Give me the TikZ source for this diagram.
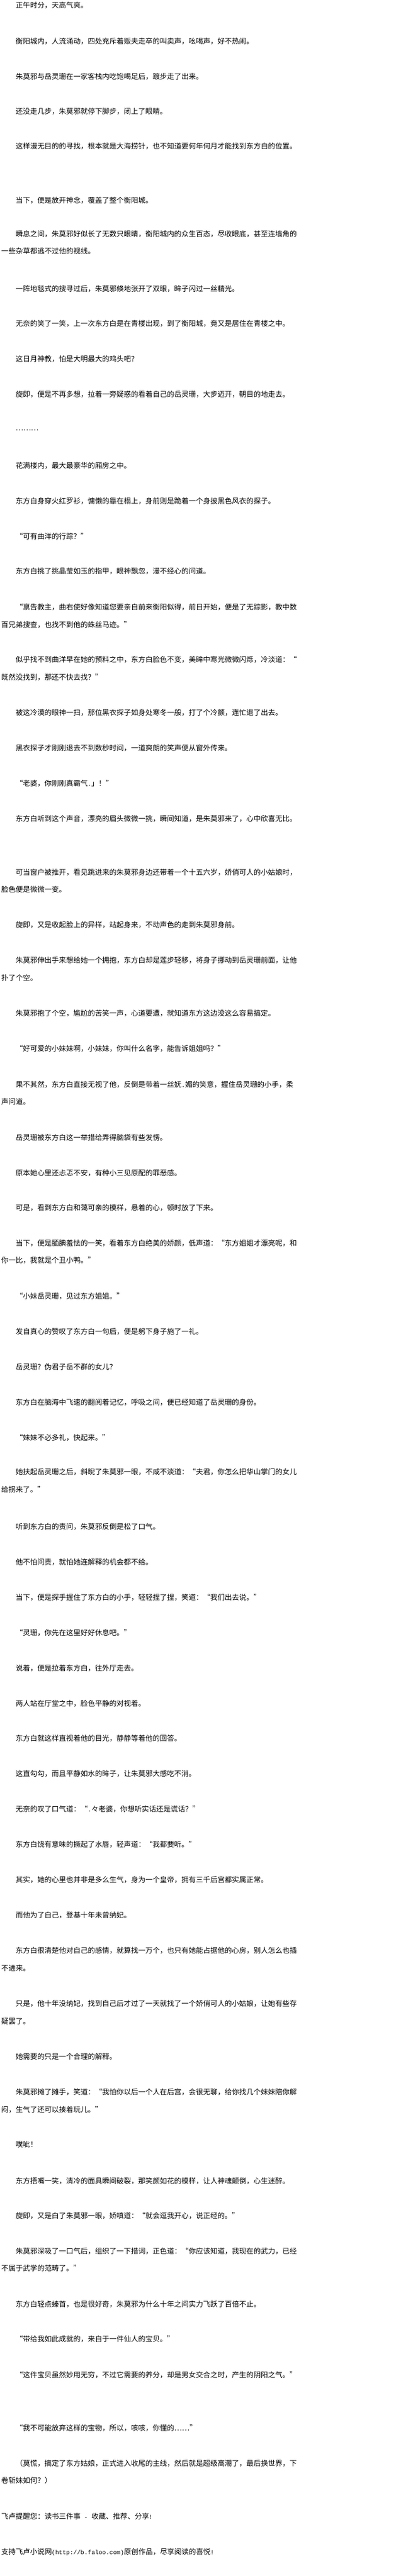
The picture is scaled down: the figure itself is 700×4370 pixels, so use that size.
\documentclass[tikz,border=0pt]{standalone}
\usepackage{fontspec}
\newfontfamily\cjk{Noto Sans CJK SC}
\newfontfamily\cjkq{Noto Sans CJK SC}[RawFeature=+fwid]
\newfontfamily\latmono{Liberation Mono}
\newcommand\qo{{\cjkq “}}
\newcommand\qc{{\cjkq ”}}
\newcommand\elp{{\cjkq …}}
\newcommand\asc[1]{{\latmono\fontsize{10.2pt}{12pt}\selectfont #1}}
\tikzset{para/.style={anchor=base west, inner sep=0pt, text=black, font=\cjk\fontsize{12.22pt}{14pt}\selectfont}}
\begin{document}
\begin{tikzpicture}[x=1pt,y=-1pt]
\fill[white] (0,0) rectangle (700,4370);
\useasboundingbox (0,0) rectangle (700,4370);
\begin{scope}[yshift=-4.6pt]
\node[para] (l1) at (26.4,9) {正午时分，天高气爽。};
\node[para] (l2) at (26.4,70) {衡阳城内，人流涌动，四处充斥着贩夫走卒的叫卖声，吆喝声，好不热闹。};
\node[para] (l3) at (26.4,130) {朱莫邪与岳灵珊在一家客栈内吃饱喝足后，踱步走了出来。};
\node[para] (l4) at (26.4,189) {还没走几步，朱莫邪就停下脚步，闭上了眼睛。};
\node[para] (l5) at (26.4,248) {这样漫无目的的寻找，根本就是大海捞针，也不知道要何年何月才能找到东方白的位置。};
\node[para] (l6) at (26.4,340) {当下，便是放开神念，覆盖了整个衡阳城。};
\node[para] (l7) at (26.4,397) {瞬息之间，朱莫邪好似长了无数只眼睛，衡阳城内的众生百态，尽收眼底，甚至连墙角的};
\node[para] (l8) at (2,426) {一些杂草都逃不过他的视线。};
\node[para] (l9) at (26.4,490) {一阵地毯式的搜寻过后，朱莫邪倏地张开了双眼，眸子闪过一丝精光。};
\node[para] (l10) at (26.4,549) {无奈的笑了一笑，上一次东方白是在青楼出现，到了衡阳城，竟又是居住在青楼之中。};
\node[para] (l11) at (26.4,609) {这日月神教，怕是大明最大的鸡头吧？};
\node[para] (l12) at (26.4,669) {旋即，便是不再多想，拉着一旁疑惑的看着自己的岳灵珊，大步迈开，朝目的地走去。};
\node[para] (l13) at (26.4,726) {\elp\elp\elp};
\node[para] (l14) at (26.4,790) {花满楼内，最大最豪华的厢房之中。};
\node[para] (l15) at (26.4,850) {东方白身穿火红罗衫，慵懒的靠在榻上，身前则是跪着一个身披黑色风衣的探子。};
\node[para] (l16) at (26.4,910) {\qo 可有曲洋的行踪？\qc};
\node[para] (l17) at (26.4,969) {东方白挑了挑晶莹如玉的指甲，眼神飘忽，漫不经心的问道。};
\node[para] (l18) at (26.4,1030) {\qo 禀告教主，曲右使好像知道您要亲自前来衡阳似得，前日开始，便是了无踪影，教中数};
\node[para] (l19) at (2,1060) {百兄弟搜查，也找不到他的蛛丝马迹。\qc};
\node[para] (l20) at (26.4,1119) {似乎找不到曲洋早在她的预料之中，东方白脸色不变，美眸中寒光微微闪烁，冷淡道：\qo};
\node[para] (l21) at (2,1149) {既然没找到，那还不快去找？\qc};
\node[para] (l22) at (26.4,1209) {被这冷漠的眼神一扫，那位黑衣探子如身处寒冬一般，打了个冷颤，连忙退了出去。};
\node[para] (l23) at (26.4,1269) {黑衣探子才刚刚退去不到数秒时间，一道爽朗的笑声便从窗外传来。};
\node[para] (l24) at (26.4,1329) {\qo 老婆，你刚刚真霸气\asc{.}」！\qc};
\node[para] (l25) at (26.4,1389) {东方白听到这个声音，漂亮的眉头微微一挑，瞬间知道，是朱莫邪来了，心中欣喜无比。};
\node[para] (l26) at (26.4,1480) {可当窗户被推开，看见跳进来的朱莫邪身边还带着一个十五六岁，娇俏可人的小姑娘时，};
\node[para] (l27) at (2,1509) {脸色便是微微一变。};
\node[para] (l28) at (26.4,1569) {旋即，又是收起脸上的异样，站起身来，不动声色的走到朱莫邪身前。};
\node[para] (l29) at (26.4,1629) {朱莫邪伸出手来想给她一个拥抱，东方白却是莲步轻移，将身子挪动到岳灵珊前面，让他};
\node[para] (l30) at (2,1659) {扑了个空。};
\node[para] (l31) at (26.4,1719) {朱莫邪抱了个空，尴尬的苦笑一声，心道要遭，就知道东方这边没这么容易搞定。};
\node[para] (l32) at (26.4,1779) {\qo 好可爱的小妹妹啊，小妹妹，你叫什么名字，能告诉姐姐吗？\qc};
\node[para] (l33) at (26.4,1840) {果不其然，东方白直接无视了他，反倒是带着一丝妩\asc{.}媚的笑意，握住岳灵珊的小手，柔};
\node[para] (l34) at (2,1869) {声问道。};
\node[para] (l35) at (26.4,1930) {岳灵珊被东方白这一举措给弄得脑袋有些发愣。};
\node[para] (l36) at (26.4,1990) {原本她心里还忐忑不安，有种小三见原配的罪恶感。};
\node[para] (l37) at (26.4,2049) {可是，看到东方白和蔼可亲的模样，悬着的心，顿时放了下来。};
\node[para] (l38) at (26.4,2109) {当下，便是腼腆羞怯的一笑，看着东方白绝美的娇颜，低声道：\qo 东方姐姐才漂亮呢，和};
\node[para] (l39) at (2,2138) {你一比，我就是个丑小鸭。\qc};
\node[para] (l40) at (26.4,2199) {\qo 小妹岳灵珊，见过东方姐姐。\qc};
\node[para] (l41) at (26.4,2259) {发自真心的赞叹了东方白一句后，便是躬下身子施了一礼。};
\node[para] (l42) at (26.4,2319) {岳灵珊？伪君子岳不群的女儿？};
\node[para] (l43) at (26.4,2379) {东方白在脑海中飞速的翻阅着记忆，呼吸之间，便已经知道了岳灵珊的身份。};
\node[para] (l44) at (26.4,2439) {\qo 妹妹不必多礼，快起来。\qc};
\node[para] (l45) at (26.4,2497) {她扶起岳灵珊之后，斜睨了朱莫邪一眼，不咸不淡道：\qo 夫君，你怎么把华山掌门的女儿};
\node[para] (l46) at (2,2527) {给拐来了。\qc};
\node[para] (l47) at (26.4,2590) {听到东方白的责问，朱莫邪反倒是松了口气。};
\node[para] (l48) at (26.4,2650) {他不怕问责，就怕她连解释的机会都不给。};
\node[para] (l49) at (26.4,2710) {当下，便是探手握住了东方白的小手，轻轻捏了捏，笑道：\qo 我们出去说。\qc};
\node[para] (l50) at (26.4,2770) {\qo 灵珊，你先在这里好好休息吧。\qc};
\node[para] (l51) at (26.4,2830) {说着，便是拉着东方白，往外厅走去。};
\node[para] (l52) at (26.4,2890) {两人站在厅堂之中，脸色平静的对视着。};
\node[para] (l53) at (26.4,2949) {东方白就这样直视着他的目光，静静等着他的回答。};
\node[para] (l54) at (26.4,3009) {这直勾勾，而且平静如水的眸子，让朱莫邪大感吃不消。};
\node[para] (l55) at (26.4,3069) {无奈的叹了口气道：\qo\asc{.}々老婆，你想听实话还是谎话？\qc};
\node[para] (l56) at (26.4,3129) {东方白饶有意味的撅起了水唇，轻声道：\qo 我都要听。\qc};
\node[para] (l57) at (26.4,3189) {其实，她的心里也并非是多么生气，身为一个皇帝，拥有三千后宫都实属正常。};
\node[para] (l58) at (26.4,3249) {而他为了自己，登基十年未曾纳妃。};
\node[para] (l59) at (26.4,3309) {东方白很清楚他对自己的感情，就算找一万个，也只有她能占据他的心房，别人怎么也插};
\node[para] (l60) at (2,3339) {不进来。};
\node[para] (l61) at (26.4,3399) {只是，他十年没纳妃，找到自己后才过了一天就找了一个娇俏可人的小姑娘，让她有些存};
\node[para] (l62) at (2,3429) {疑罢了。};
\node[para] (l63) at (26.4,3489) {她需要的只是一个合理的解释。};
\node[para] (l64) at (26.4,3549) {朱莫邪摊了摊手，笑道：\qo 我怕你以后一个人在后宫，会很无聊，给你找几个妹妹陪你解};
\node[para] (l65) at (2,3579) {闷，生气了还可以揍着玩儿。\qc};
\node[para] (l66) at (26.4,3638) {噗呲！};
\node[para] (l67) at (26.4,3700) {东方捂嘴一笑，清冷的面具瞬间破裂，那笑颜如花的模样，让人神魂颠倒，心生迷醉。};
\node[para] (l68) at (26.4,3759) {旋即，又是白了朱莫邪一眼，娇嗔道：\qo 就会逗我开心，说正经的。\qc};
\node[para] (l69) at (26.4,3819) {朱莫邪深吸了一口气后，组织了一下措词，正色道：\qo 你应该知道，我现在的武力，已经};
\node[para] (l70) at (2,3848) {不属于武学的范畴了。\qc};
\node[para] (l71) at (26.4,3909) {东方白轻点螓首，也是很好奇，朱莫邪为什么十年之间实力飞跃了百倍不止。};
\node[para] (l72) at (26.4,3968) {\qo 带给我如此成就的，来自于一件仙人的宝贝。\qc};
\node[para] (l73) at (26.4,4029) {\qo 这件宝贝虽然妙用无穷，不过它需要的养分，却是男女交合之时，产生的阴阳之气。\qc};
\node[para] (l74) at (26.4,4119) {\qo 我不可能放弃这样的宝物，所以，咳咳，你懂的\elp\elp\qc};
\node[para] (l75) at (26.4,4179) {（莫慌，搞定了东方姑娘，正式进入收尾的主线，然后就是超级高潮了，最后换世界，下};
\node[para] (l76) at (2,4208) {卷斩妹如何？）};
\node[para] (l77) at (2,4269) {飞卢提醒您：读书三件事\asc{ - }收藏、推荐、分享\asc{!}};
\node[para] (l78) at (2,4329) {支持飞卢小说网\asc{(http://b.faloo.com)}原创作品，尽享阅读的喜悦\asc{!}};
\end{scope}
\end{tikzpicture}
\end{document}
